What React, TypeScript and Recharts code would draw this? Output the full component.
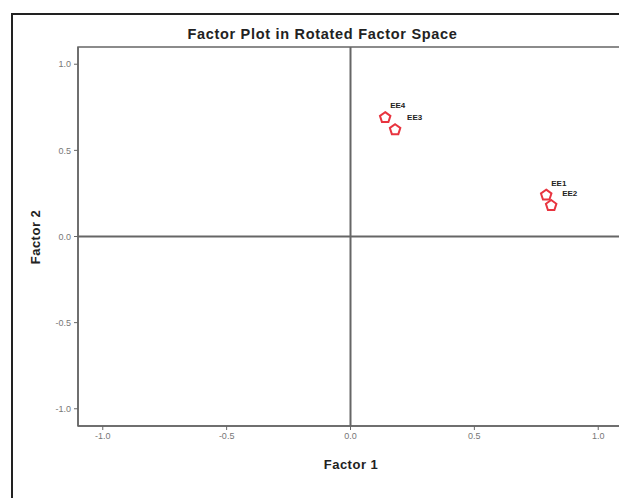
import { ScatterChart, Scatter, XAxis, YAxis, ReferenceLine, ReferenceArea, LabelList } from 'recharts'

// rotated loadings of the four items on the two extracted factors
const itemNames = ['EE1', 'EE2', 'EE3', 'EE4']
const factor1Loadings = [0.79, 0.81, 0.18, 0.14]
const factor2Loadings = [0.24, 0.18, 0.62, 0.69]
const axisTicks = [-1.0, -0.5, 0.0, 0.5, 1.0]

const points = itemNames.map((name, i) => ({
  name,
  f1: factor1Loadings[i],
  f2: factor2Loadings[i],
}))

const FONT = '"Liberation Sans", Arial, sans-serif'
const MARKER_RED = '#e8343f'

// labels that would sit on top of a neighbour get pushed a little further right
const labelNudge: Record<string, number> = { EE2: 6, EE3: 7 }

function Pentagon(props: any) {
  const { cx, cy } = props
  const r = 5.5
  const pts = Array.from({ length: 5 }, (_, k) => {
    const a = -Math.PI / 2 + (k * 2 * Math.PI) / 5
    return `${cx + r * Math.cos(a)},${cy + r * Math.sin(a)}`
  }).join(' ')
  return <polygon points={pts} fill="#fff" stroke={MARKER_RED} strokeWidth={2} />
}

function PointLabel(props: any) {
  const { x, y, width, height, value } = props
  const cx = x + width / 2
  const cy = y + height / 2
  const dx = 5 + (labelNudge[value] ?? 0)
  return (
    <text
      x={cx + dx}
      y={cy - 12}
      dominantBaseline="central"
      fontFamily={FONT}
      fontSize={8}
      fontWeight="bold"
      fill="#222"
    >
      {value}
    </text>
  )
}

const tickStyle = { fontSize: 9, fill: '#777', fontFamily: FONT }

const axisTitle = {
  position: 'absolute' as const,
  fontFamily: FONT,
  fontWeight: 'bold',
  fontSize: 13,
  letterSpacing: 0.5,
  color: '#222',
  whiteSpace: 'nowrap' as const,
}

export default function App() {
  return (
    // pinned to the viewport so the plot can run off the right edge without scrollbars
    <div style={{ position: 'fixed', left: 0, top: 0, width: 619, height: 498, overflow: 'hidden', background: '#fff' }}>
      <div style={{ position: 'absolute', left: 8, top: 8, width: 640, height: 490 }}>
        {/* outer frame */}
        <div
          style={{
            position: 'absolute',
            left: 3,
            top: 5,
            width: 700,
            height: 600,
            borderTop: '2px solid #222',
            borderLeft: '2px solid #222',
          }}
        />
        <div
          style={{
            position: 'absolute',
            left: 0,
            width: 629,
            top: 18,
            textAlign: 'center',
            fontFamily: FONT,
            fontWeight: 'bold',
            fontSize: 14.5,
            letterSpacing: 0.7,
            color: '#222',
          }}
        >
          Factor Plot in Rotated Factor Space
        </div>
        <div style={{ position: 'absolute', left: 0, top: 0 }}>
          <ScatterChart width={640} height={482} margin={{ top: 39, right: 25, bottom: 14, left: 0 }}>
            <ReferenceArea
              x1={-1.1}
              x2={1.1}
              y1={-1.1}
              y2={1.1}
              fill="none"
              stroke="#666"
              strokeWidth={1.5}
            />
            <XAxis
              type="number"
              dataKey="f1"
              domain={[-1.1, 1.1]}
              ticks={axisTicks}
              tickFormatter={(v: number) => v.toFixed(1)}
              tick={tickStyle}
              tickSize={4}
              tickMargin={3}
              axisLine={{ stroke: '#666', strokeWidth: 1.5 }}
              tickLine={{ stroke: '#666' }}
              height={50}
              allowDataOverflow
            />
            <YAxis
              type="number"
              dataKey="f2"
              domain={[-1.1, 1.1]}
              ticks={axisTicks}
              tickFormatter={(v: number) => v.toFixed(1)}
              tick={tickStyle}
              tickSize={4}
              tickMargin={3}
              axisLine={{ stroke: '#666', strokeWidth: 1.5 }}
              tickLine={{ stroke: '#666' }}
              width={70}
              allowDataOverflow
            />
            <ReferenceLine x={0} stroke="#666" strokeWidth={2} />
            <ReferenceLine y={0} stroke="#666" strokeWidth={2} />
            <Scatter data={points} shape={Pentagon} isAnimationActive={false}>
              <LabelList dataKey="name" content={PointLabel} />
            </Scatter>
          </ScatterChart>
        </div>
        <div style={{ ...axisTitle, left: 343, top: 456, transform: 'translate(-50%, -50%)' }}>
          Factor 1
        </div>
        <div style={{ ...axisTitle, left: 27, top: 229, transform: 'translate(-50%, -50%) rotate(-90deg)' }}>
          Factor 2
        </div>
      </div>
    </div>
  )
}
